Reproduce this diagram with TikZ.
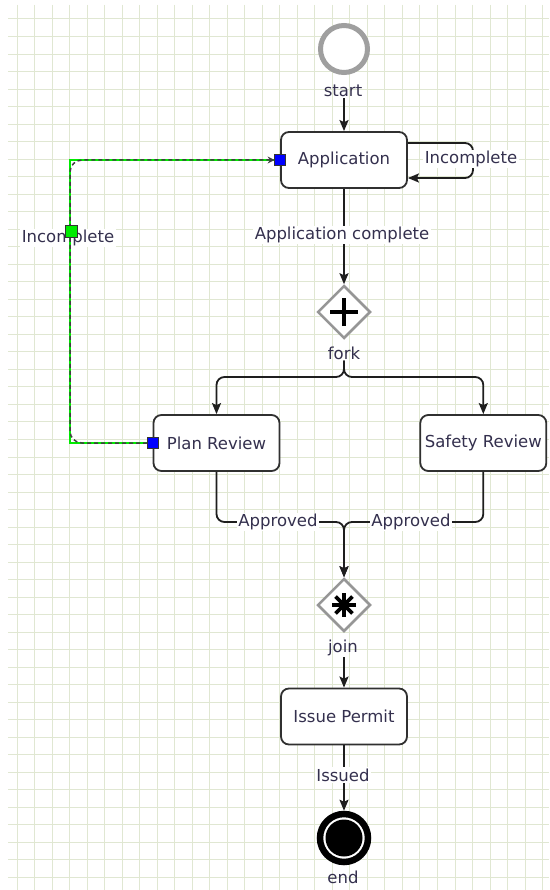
\documentclass[tikz,border=0pt]{standalone}
\usepackage{fontspec}
\setmainfont{DejaVu Sans}
\usetikzlibrary{arrows.meta,shapes.geometric}
\definecolor{gridc}{RGB}{224,231,210}
\definecolor{txt}{RGB}{52,48,78}
\definecolor{boxc}{RGB}{48,48,48}
\definecolor{linec}{RGB}{30,30,30}
\definecolor{gatec}{RGB}{150,150,150}
\definecolor{selgreen}{RGB}{0,235,0}
\definecolor{portblue}{RGB}{0,0,255}
\begin{document}
\begin{tikzpicture}[x=1pt,y=-1pt,
  every node/.style={font=\fontsize{16.5}{19}\selectfont, text=txt, inner sep=1pt},
  task/.style={draw=boxc, line width=1.8pt, rounded corners=8pt, fill=white,
    minimum width=126pt, minimum height=56pt, inner sep=0pt},
  lbl/.style={fill=white, inner sep=1.5pt},
  tip/.style={-{Stealth[length=11pt,width=9pt,inset=2pt]}},
  conn/.style={draw=linec, line width=1.8pt, tip},
  gate/.style={diamond, draw=gatec, line width=2.5pt, fill=white,
    minimum width=53pt, minimum height=53pt, inner sep=0pt},
  port/.style={draw=black!80, line width=0.8pt, fill=portblue, minimum size=11pt, inner sep=0pt},
  gport/.style={draw=black!80, line width=0.8pt, fill=selgreen, minimum size=12pt, inner sep=0pt},
  selline/.style={draw=selgreen, line width=2.2pt},
  seldash/.style={draw=black!75, line width=1.5pt, dash pattern=on 4pt off 3pt, rounded corners=12pt,
    -{Stealth[length=7pt,width=7pt]}}
]
\useasboundingbox (0,0) rectangle (549,890);
\fill[white] (0,0) rectangle (549,890);
\foreach \i in {0,...,30} \draw[gridc, line width=1pt] ({17+\i*17.52},5) -- ({17+\i*17.52},890);
\foreach \i in {0,...,49} \draw[gridc, line width=1pt] (8,{19+\i*17.52}) -- (549,{19+\i*17.52});

% nodes
\node[circle, draw=gray!75, line width=5pt, minimum size=47pt, inner sep=0pt, fill=white] (start) at (344,49) {};
\node (startlbl) at (343,91) {start};
\node[task] (app) at (344,160) {Application};
\node[gate] (fork) at (344,312) {};
\node (forklbl) at (344,353) {fork};
\node[task] (plan) at (216.5,443) {Plan Review};
\node[task] (safety) at (483.3,443) {Safety Review};
\node[gate] (join) at (344,605) {};
\node (joinlbl) at (343,648) {join};
\node[task] (permit) at (344,716.5) {Issue Permit};
\node[circle, draw=black, line width=6.5pt, minimum size=48pt, inner sep=0pt, fill=white] (end) at (344,838) {};
\fill[black] (end.center) circle (18.5);
\node (endlbl) at (343,877) {end};

% gate symbols
\draw[black, line width=4.5pt] ([xshift=-14pt]fork.center) -- ([xshift=14pt]fork.center);
\draw[black, line width=4.5pt] ([yshift=-14pt]fork.center) -- ([yshift=14pt]fork.center);
\foreach \a in {0,45,90,135}
  \draw[black, line width=3.6pt] ([shift={(\a:12pt)}]join.center) -- ([shift={(\a+180:12pt)}]join.center);

% connectors
\draw[conn] (app.north |- startlbl.south) -- (app.north);
\coordinate (loopA) at (473,143);
\coordinate (loopB) at (473,178);
\draw[conn, rounded corners=8pt] ([yshift=17pt]app.east) -- (loopA) -- (loopB) -- ([yshift=-18pt]app.east);
\node[lbl] (looplbl) at (471,159) {Incomplete};

\draw[conn] (app) -- (fork);
\node[lbl] (complbl) at (342,235) {Application complete};

\coordinate (splitM) at (344,377);
\draw[conn, rounded corners=8pt] (forklbl.south) -- (splitM) -- (plan.north |- splitM) -- (plan.north);
\draw[conn, rounded corners=8pt] (forklbl.south) -- (splitM) -- (safety.north |- splitM) -- (safety.north);

\coordinate (mergeM) at (344,522);
\draw[conn, rounded corners=8pt] (plan.south) -- (plan.south |- mergeM) -- (mergeM) -- (join.north);
\draw[conn, rounded corners=8pt] (safety.south) -- (safety.south |- mergeM) -- (mergeM) -- (join.north);
\node[lbl] (apprL) at (278,522) {Approved};
\node[lbl] (apprR) at (411,522) {Approved};

\draw[conn] (permit.north |- joinlbl.south) -- (permit.north);
\draw[conn] (permit) -- (end);
\node[lbl] (issued) at (343,775) {Issued};

% return path (selected)
\node[lbl] (retlbl) at (68,238) {Incomplete};
\coordinate (retB) at (70,443);
\coordinate (retT) at (70,160);
\draw[selline] (plan.west) -- (retB) -- (retT) -- (app.west);
\draw[seldash] ([xshift=-5.5pt]plan.west) -- (retB) -- (retT) -- ([xshift=-5.5pt]app.west);
\node[port] (planport) at (plan.west) {};
\node[port] (appport) at (app.west) {};
\node[gport] (retmid) at (71,231) {};
\end{tikzpicture}
\end{document}
